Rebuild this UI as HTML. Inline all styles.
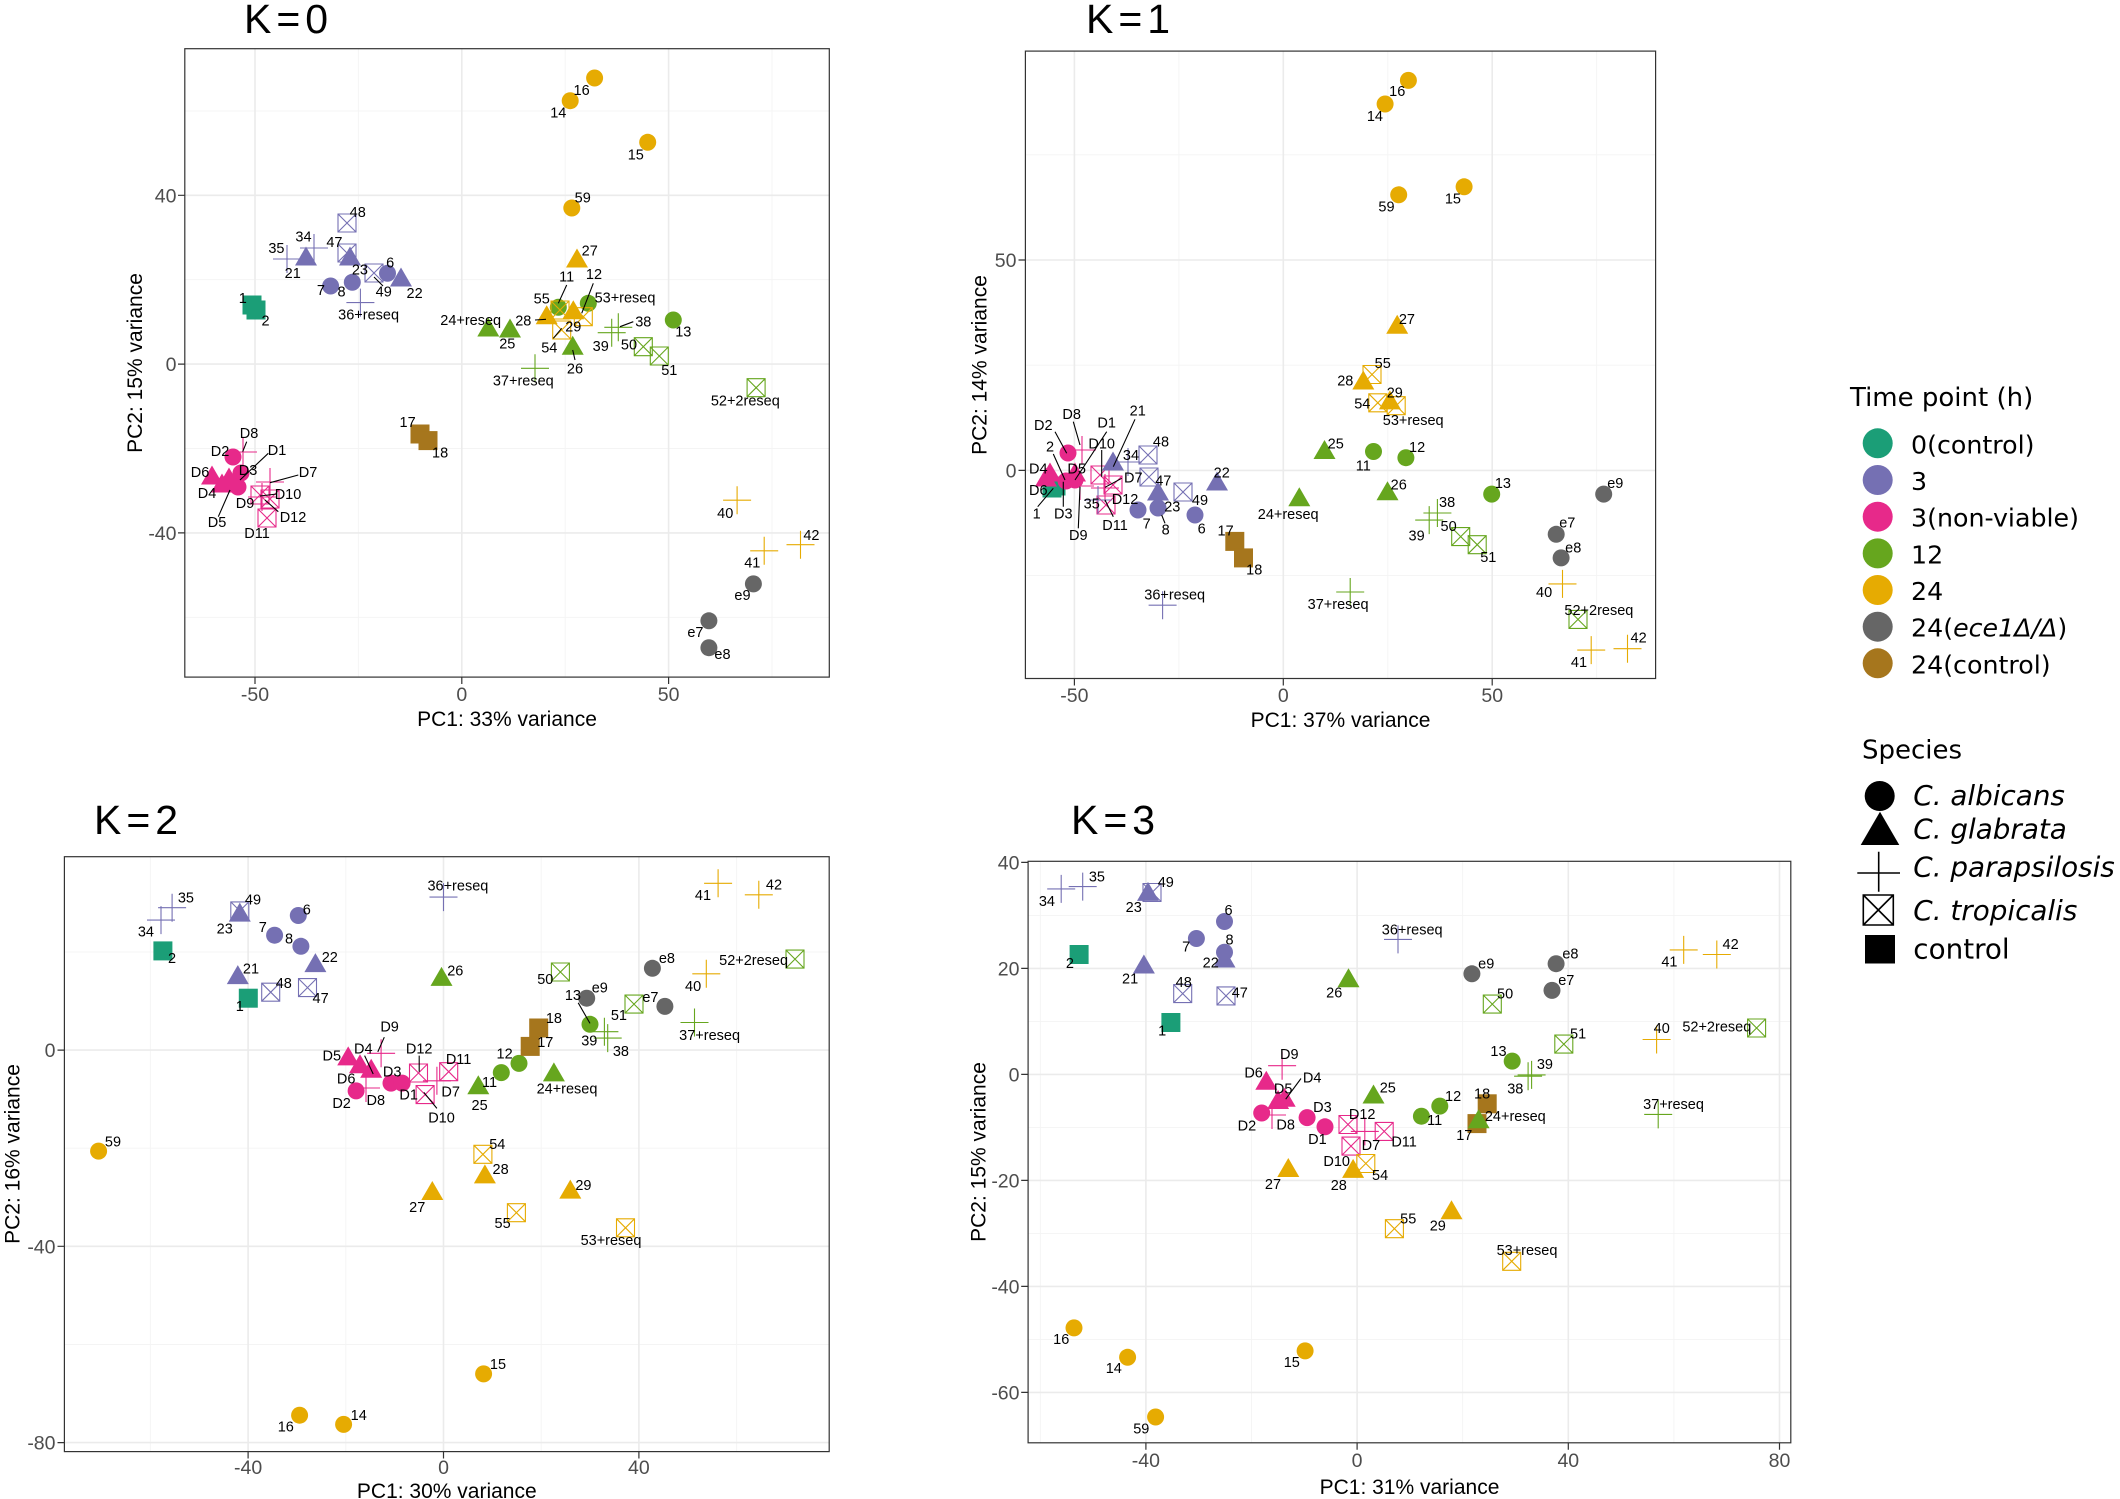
<!DOCTYPE html>
<html><head><meta charset="utf-8">
<style>
html,body{margin:0;padding:0;background:#fff;width:2120px;height:1499px;overflow:hidden}
svg{display:block}
text{font-family:"Liberation Sans",Arial,sans-serif;fill:#000}
.l{font-size:14.5px;text-anchor:middle}
.tk{font-size:19.5px;fill:#4d4d4d}
.tx{text-anchor:middle}
.ty{text-anchor:end}
.at{font-size:21px;text-anchor:middle}
.ti{font-size:41px;letter-spacing:5px}
.lg{font-family:"DejaVu Sans",sans-serif}
.gm{stroke:#ebebeb;stroke-width:1.6}
.gn{stroke:#f4f4f4;stroke-width:0.9}
.bd{fill:none;stroke:#333;stroke-width:1.2}
.tm{stroke:#333;stroke-width:1.2}
.sg{stroke:#000;stroke-width:1.1}
.cT{fill:#1B9E77}.cP{fill:#7570B3}.cK{fill:#E7298A}.cG{fill:#66A61E}.cY{fill:#E6AB02}.cD{fill:#666666}.cB{fill:#A6761D}
.sP{stroke:#7570B3}.sK{stroke:#E7298A}.sG{stroke:#66A61E}.sY{stroke:#E6AB02}
</style></head><body>
<svg width="2120" height="1499" viewBox="0 0 2120 1499" xmlns="http://www.w3.org/2000/svg">
<defs>
<path id="tr" d="M0,-11.5L11,7.5H-11Z"/>
<path id="pl" d="M-14,0H14M0,-14V14" fill="none" stroke-width="1.1"/>
<path id="bx" d="M-9,-9H9V9H-9ZM-9,-9L9,9M9,-9L-9,9" fill="none" stroke-width="1.1"/>
<rect id="sq" x="-9.5" y="-9.5" width="19" height="19"/>
</defs>
<rect width="2120" height="1499" fill="#fff"/>

<!-- ================= K=0 ================= -->
<text class="ti" x="244" y="33">K=0</text>
<g>
<path class="gn" d="M358.4,48.7V677.1M565.2,48.7V677.1M772,48.7V677.1M184.8,110.9H829.3M184.8,279.7H829.3M184.8,448.5H829.3M184.8,617.3H829.3"/>
<path class="gm" d="M255,48.7V677.1M461.8,48.7V677.1M668.6,48.7V677.1M184.8,195.3H829.3M184.8,364.1H829.3M184.8,532.9H829.3"/>
<path class="tm" d="M255,677.1V684M461.8,677.1V684M668.6,677.1V684M178,195.3H184.8M178,364.1H184.8M178,532.9H184.8"/>
<text class="tk tx" x="255" y="701">-50</text><text class="tk tx" x="461.8" y="701">0</text><text class="tk tx" x="668.6" y="701">50</text>
<text class="tk ty" x="176.5" y="202.3">40</text><text class="tk ty" x="176.5" y="371.1">0</text><text class="tk ty" x="176.5" y="539.9">-40</text>
<text class="at" x="507" y="726">PC1: 33% variance</text>
<text class="at" transform="translate(142,363) rotate(-90)">PC2: 15% variance</text>

<use href="#sq" x="252" y="305" class="cT"/><use href="#sq" x="256" y="310" class="cT"/>
<use href="#bx" x="347" y="223" class="sP"/>
<use href="#pl" x="314" y="248" class="sP"/>
<use href="#pl" x="287" y="259" class="sP"/>
<use href="#tr" x="306" y="258" class="cP"/>
<use href="#bx" x="347" y="253" class="sP"/>
<use href="#tr" x="350" y="258" class="cP"/>
<use href="#bx" x="374" y="273" class="sP"/>
<circle cx="387.5" cy="273.3" r="8.5" class="cP"/>
<use href="#tr" x="401" y="279" class="cP"/>
<circle cx="330.6" cy="286" r="8.5" class="cP"/>
<circle cx="352.3" cy="282.3" r="8.5" class="cP"/>
<use href="#pl" x="360.4" y="302.6" class="sP"/>

<use href="#pl" x="243" y="452" class="sK"/>
<use href="#pl" x="270" y="482" class="sK"/>
<use href="#pl" x="262" y="497" class="sK"/>
<use href="#bx" x="260" y="495" class="sK"/>
<use href="#bx" x="270" y="499" class="sK"/>
<use href="#bx" x="267" y="518" class="sK"/>
<circle cx="233" cy="457" r="8.5" class="cK"/><circle cx="241" cy="473" r="8.5" class="cK"/><circle cx="238" cy="487" r="8.5" class="cK"/>
<use href="#tr" x="212" y="477" class="cK"/><use href="#tr" x="222" y="485" class="cK"/><use href="#tr" x="229" y="479" class="cK"/>

<use href="#sq" x="420" y="434" class="cB"/><use href="#sq" x="428" y="440.6" class="cB"/>

<use href="#tr" x="488.3" y="329" class="cG"/><use href="#tr" x="510" y="330" class="cG"/><use href="#tr" x="572.7" y="347.3" class="cG"/>
<circle cx="558.3" cy="307.3" r="8.5" class="cG"/><circle cx="588.3" cy="303.3" r="8.5" class="cG"/><circle cx="673.3" cy="320" r="8.5" class="cG"/>
<use href="#pl" x="618.3" y="327.3" class="sG"/><use href="#pl" x="611.7" y="332.7" class="sG"/><use href="#pl" x="535" y="368.3" class="sG"/>
<use href="#bx" x="643.3" y="346.7" class="sG"/><use href="#bx" x="659.3" y="356" class="sG"/><use href="#bx" x="756.1" y="387.7" class="sG"/>
<use href="#bx" x="560" y="310" class="sY"/><use href="#bx" x="583.3" y="316.7" class="sY"/><use href="#bx" x="561.7" y="330" class="sY"/>
<use href="#tr" x="546.7" y="316.7" class="cY"/><use href="#tr" x="573.3" y="311.7" class="cY"/><use href="#tr" x="577" y="260" class="cY"/>
<circle cx="594.6" cy="78" r="8.5" class="cY"/><circle cx="570.2" cy="100.7" r="8.5" class="cY"/><circle cx="647.7" cy="142.3" r="8.5" class="cY"/><circle cx="571.8" cy="208" r="8.5" class="cY"/>
<use href="#pl" x="737.1" y="500.2" class="sY"/><use href="#pl" x="764.2" y="550.8" class="sY"/><use href="#pl" x="800.5" y="544.7" class="sY"/>
<circle cx="753.4" cy="583.9" r="8.5" class="cD"/><circle cx="708.9" cy="620.8" r="8.5" class="cD"/><circle cx="708.9" cy="647.7" r="8.5" class="cD"/>

<path class="sg" d="M383,286L374,277M246.7,441.7L242.7,451.7M268.3,453.3L240,480M298.3,475L270,482.7M276.7,494L260,496M278.3,511.7L265,500M218.3,516.7L230,490M566.7,285L558.3,303.3M593.3,283.3L581.7,313.3M535,320L546,319.3M553.3,338.3L561.7,328.3M572.7,350L575,360M620,326.7L633.3,321.7"/>
<g class="l">
<text class="l" x="581.6" y="94.8">16</text><text class="l" x="558.3" y="117.5">14</text><text class="l" x="635.8" y="159.6">15</text><text class="l" x="582.7" y="202.6">59</text><text class="l" x="589.7" y="255.6">27</text>
<text class="l" x="566.7" y="281.7">11</text><text class="l" x="594" y="279">12</text><text class="l" x="541.7" y="303.3">55</text><text class="l" x="625" y="302.7">53+reseq</text><text class="l" x="470.7" y="325">24+reseq</text>
<text class="l" x="523.3" y="325.7">28</text><text class="l" x="573.3" y="331.7">29</text><text class="l" x="549.3" y="352.3">54</text><text class="l" x="507.3" y="348.3">25</text><text class="l" x="575" y="373.3">26</text>
<text class="l" x="643.3" y="326.7">38</text><text class="l" x="600.7" y="351">39</text><text class="l" x="629" y="349.3">50</text><text class="l" x="669.3" y="375">51</text><text class="l" x="683.3" y="336.7">13</text>
<text class="l" x="523.3" y="385.7">37+reseq</text><text class="l" x="745.3" y="405.5">52+2reseq</text><text class="l" x="725.2" y="518">40</text><text class="l" x="752.3" y="567.6">41</text><text class="l" x="811.4" y="540.2">42</text>
<text class="l" x="742.5" y="599.8">e9</text><text class="l" x="695.4" y="637.1">e7</text><text class="l" x="722.5" y="658.9">e8</text><text class="l" x="407.6" y="427.2">17</text><text class="l" x="440.1" y="457.5">18</text>
<text class="l" x="242.8" y="302.9">1</text><text class="l" x="265.6" y="325.6">2</text><text class="l" x="357.7" y="216.8">48</text><text class="l" x="303.5" y="241.4">34</text><text class="l" x="276.4" y="253.2">35</text>
<text class="l" x="292.7" y="277.8">21</text><text class="l" x="334.4" y="247.1">47</text><text class="l" x="359.9" y="274.5">23</text><text class="l" x="383.7" y="296.7">49</text><text class="l" x="390.2" y="267.4">6</text>
<text class="l" x="414.6" y="298.1">22</text><text class="l" x="320.9" y="294.8">7</text><text class="l" x="341.5" y="296.7">8</text><text class="l" x="368.6" y="319.4">36+reseq</text>
<text class="l" x="249" y="438">D8</text><text class="l" x="220" y="456">D2</text><text class="l" x="277" y="455">D1</text><text class="l" x="200" y="477">D6</text><text class="l" x="248" y="475">D3</text><text class="l" x="308" y="477">D7</text>
<text class="l" x="207" y="498">D4</text><text class="l" x="288" y="499">D10</text><text class="l" x="245" y="508">D9</text><text class="l" x="293" y="522">D12</text><text class="l" x="217" y="527">D5</text><text class="l" x="257" y="538">D11</text>
</g>
<rect class="bd" x="184.8" y="48.7" width="644.5" height="628.4"/>
</g>

<!-- ================= K=1 ================= -->
<text class="ti" x="1086" y="33">K=1</text>
<g>
<path class="gn" d="M1178.9,51.1V678.5M1387.8,51.1V678.5M1596.7,51.1V678.5M1025.4,154.8H1655.6M1025.4,365.2H1655.6M1025.4,575.6H1655.6"/>
<path class="gm" d="M1074.4,51.1V678.5M1283.3,51.1V678.5M1492.2,51.1V678.5M1025.4,260H1655.6M1025.4,470.4H1655.6"/>
<path class="tm" d="M1074.4,678.5V685.5M1283.3,678.5V685.5M1492.2,678.5V685.5M1018.5,260H1025.4M1018.5,470.4H1025.4"/>
<text class="tk tx" x="1074.4" y="702">-50</text><text class="tk tx" x="1283.3" y="702">0</text><text class="tk tx" x="1492.2" y="702">50</text>
<text class="tk ty" x="1016.5" y="267">50</text><text class="tk ty" x="1016.5" y="477.4">0</text>
<text class="at" x="1340.5" y="727">PC1: 37% variance</text>
<text class="at" transform="translate(986.5,365) rotate(-90)">PC2: 14% variance</text>

<use href="#sq" x="1052" y="488" class="cT"/><use href="#sq" x="1056" y="486" class="cT"/>
<use href="#tr" x="1050" y="474" class="cK"/><use href="#tr" x="1046" y="479" class="cK"/><use href="#tr" x="1075" y="474" class="cK"/>
<circle cx="1068" cy="453" r="8.5" class="cK"/><circle cx="1075" cy="480" r="8.5" class="cK"/><circle cx="1066" cy="481" r="8.5" class="cK"/>
<use href="#pl" x="1082" y="450" class="sK"/><use href="#pl" x="1080" y="486" class="sK"/><use href="#pl" x="1105" y="488" class="sK"/>
<use href="#bx" x="1100" y="475" class="sK"/><use href="#bx" x="1113" y="485" class="sK"/><use href="#bx" x="1106" y="505" class="sK"/>
<use href="#tr" x="1113" y="463" class="cP"/><use href="#tr" x="1158" y="493" class="cP"/><use href="#tr" x="1217" y="483" class="cP"/>
<use href="#pl" x="1128" y="462" class="sP"/><use href="#pl" x="1098" y="500" class="sP"/><use href="#pl" x="1162.6" y="605.2" class="sP"/>
<use href="#bx" x="1148" y="455" class="sP"/><use href="#bx" x="1149" y="477" class="sP"/><use href="#bx" x="1183" y="492" class="sP"/>
<circle cx="1138" cy="510" r="8.5" class="cP"/><circle cx="1158" cy="508" r="8.5" class="cP"/><circle cx="1195" cy="515" r="8.5" class="cP"/>
<use href="#sq" x="1234.8" y="541.4" class="cB"/><use href="#sq" x="1243.5" y="557.9" class="cB"/>
<use href="#tr" x="1324.5" y="451.5" class="cG"/><use href="#tr" x="1299.3" y="498.8" class="cG"/><use href="#tr" x="1387.5" y="492.7" class="cG"/>
<circle cx="1373.5" cy="451.5" r="8.5" class="cG"/><circle cx="1405.9" cy="457.7" r="8.5" class="cG"/><circle cx="1491.7" cy="494.1" r="8.5" class="cG"/>
<use href="#pl" x="1437.4" y="513" class="sG"/><use href="#pl" x="1429.2" y="520.1" class="sG"/><use href="#pl" x="1350.2" y="592" class="sG"/>
<use href="#bx" x="1460.7" y="536.6" class="sG"/><use href="#bx" x="1477.2" y="544.7" class="sG"/><use href="#bx" x="1578" y="619.4" class="sG"/>
<circle cx="1408.4" cy="80.4" r="8.5" class="cY"/><circle cx="1385.1" cy="104" r="8.5" class="cY"/><circle cx="1398.7" cy="194.8" r="8.5" class="cY"/><circle cx="1464.1" cy="186.8" r="8.5" class="cY"/>
<use href="#bx" x="1372" y="374.5" class="sY"/><use href="#bx" x="1377.8" y="402.8" class="sY"/><use href="#bx" x="1396.2" y="405.7" class="sY"/>
<use href="#tr" x="1397.2" y="326.2" class="cY"/><use href="#tr" x="1363.3" y="382" class="cY"/><use href="#tr" x="1389.9" y="401.9" class="cY"/>
<use href="#pl" x="1562.5" y="583.9" class="sY"/><use href="#pl" x="1591.2" y="650.1" class="sY"/><use href="#pl" x="1627.5" y="648.7" class="sY"/>
<circle cx="1603.7" cy="494.1" r="8.5" class="cD"/><circle cx="1556.2" cy="534.3" r="8.5" class="cD"/><circle cx="1561.1" cy="557.9" r="8.5" class="cD"/>

<path class="sg" d="M1055,431.7L1066.7,453.3M1073.3,421.7L1080,445M1106.7,431.7L1075,480M1135,419.3L1113.3,466.7M1053.3,454L1065,480M1101.7,450L1101.7,476.7M1121.7,478.3L1105,487.3M1037.7,506.7L1053.3,488.3M1063.3,506.7L1063.3,481.7M1113.3,516.7L1105,500M1078.3,528.3L1080,486.7M1165,523.3L1161.7,515"/>
<text class="l" x="1397.2" y="95.8">16</text><text class="l" x="1374.9" y="120.8">14</text><text class="l" x="1386.5" y="211.6">59</text><text class="l" x="1452.9" y="203.6">15</text><text class="l" x="1406.9" y="324.1">27</text>
<text class="l" x="1382.7" y="368.1">55</text><text class="l" x="1345.3" y="385.6">28</text><text class="l" x="1394.8" y="397.4">29</text><text class="l" x="1362.3" y="408.3">54</text><text class="l" x="1413.2" y="424.8">53+reseq</text>
<text class="l" x="1335.7" y="448.5">25</text><text class="l" x="1363.3" y="470.7">11</text><text class="l" x="1417.1" y="451.8">12</text><text class="l" x="1288.2" y="518.9">24+reseq</text><text class="l" x="1398.7" y="489.6">26</text>
<text class="l" x="1502.9" y="488.2">13</text><text class="l" x="1447.1" y="507.1">38</text><text class="l" x="1416.6" y="540.7">39</text><text class="l" x="1448.6" y="530.8">50</text><text class="l" x="1488.3" y="562">51</text>
<text class="l" x="1615.3" y="488.2">e9</text><text class="l" x="1567.3" y="527.4">e7</text><text class="l" x="1573.2" y="552.5">e8</text><text class="l" x="1544.1" y="597">40</text><text class="l" x="1598.9" y="614.9">52+2reseq</text>
<text class="l" x="1579" y="666.9">41</text><text class="l" x="1638.6" y="642.4">42</text><text class="l" x="1225.6" y="535.5">17</text><text class="l" x="1254.2" y="574.7">18</text><text class="l" x="1174.7" y="599.3">36+reseq</text><text class="l" x="1338.1" y="608.8">37+reseq</text>
<text class="l" x="1043.3" y="430">D2</text><text class="l" x="1071.7" y="419">D8</text><text class="l" x="1106.7" y="427.7">D1</text><text class="l" x="1137.7" y="415.7">21</text><text class="l" x="1050" y="451.7">2</text>
<text class="l" x="1101.7" y="448.3">D10</text><text class="l" x="1038.3" y="473.3">D4</text><text class="l" x="1076.7" y="473.3">D5</text><text class="l" x="1131" y="460">34</text><text class="l" x="1161" y="446.7">48</text>
<text class="l" x="1133.3" y="482.3">D7</text><text class="l" x="1163.3" y="485.7">47</text><text class="l" x="1221.7" y="477.7">22</text><text class="l" x="1038.3" y="495">D6</text><text class="l" x="1091.7" y="508.3">35</text>
<text class="l" x="1125" y="504">D12</text><text class="l" x="1172.3" y="511.7">23</text><text class="l" x="1200" y="505">49</text><text class="l" x="1036.7" y="518.3">1</text><text class="l" x="1063.3" y="518.3">D3</text>
<text class="l" x="1146.7" y="528.3">7</text><text class="l" x="1165.7" y="534.3">8</text><text class="l" x="1201.7" y="533.3">6</text><text class="l" x="1115" y="530">D11</text><text class="l" x="1078.3" y="540">D9</text>
<rect class="bd" x="1025.4" y="51.1" width="630.2" height="627.4"/>
</g>

<!-- ================= K=2 ================= -->
<text class="ti" x="94" y="834">K=2</text>
<g>
<path class="gn" d="M150.3,856.7V1451.6M345.8,856.7V1451.6M541.2,856.7V1451.6M736.7,856.7V1451.6M64.4,952H829.2M64.4,1148.2H829.2M64.4,1344.5H829.2"/>
<path class="gm" d="M248.1,856.7V1451.6M443.5,856.7V1451.6M638.9,856.7V1451.6M64.4,1050.1H829.2M64.4,1246.3H829.2M64.4,1442.6H829.2"/>
<path class="tm" d="M248.1,1451.6V1458.5M443.5,1451.6V1458.5M638.9,1451.6V1458.5M57.5,1050.1H64.4M57.5,1246.3H64.4M57.5,1442.6H64.4"/>
<text class="tk tx" x="248.1" y="1474">-40</text><text class="tk tx" x="443.5" y="1474">0</text><text class="tk tx" x="638.9" y="1474">40</text>
<text class="tk ty" x="55.5" y="1057.1">0</text><text class="tk ty" x="55.5" y="1253.3">-40</text><text class="tk ty" x="55.5" y="1449.6">-80</text>
<text class="at" x="446.8" y="1498">PC1: 30% variance</text>
<text class="at" transform="translate(19.7,1154) rotate(-90)">PC2: 16% variance</text>

<use href="#pl" x="172.1" y="907.7" class="sP"/><use href="#pl" x="161" y="920.1" class="sP"/><use href="#pl" x="443.5" y="897.1" class="sP"/>
<use href="#bx" x="239.8" y="910.9" class="sP"/><use href="#bx" x="270.7" y="992.2" class="sP"/><use href="#bx" x="307.5" y="987.6" class="sP"/>
<use href="#tr" x="239.8" y="914.1" class="cP"/><use href="#tr" x="315.4" y="964.6" class="cP"/><use href="#tr" x="237.8" y="976.6" class="cP"/>
<circle cx="298.3" cy="915.5" r="8.5" class="cP"/><circle cx="274.6" cy="935.2" r="8.5" class="cP"/><circle cx="300.9" cy="946.3" r="8.5" class="cP"/>
<use href="#sq" x="162.9" y="950.9" class="cT"/><use href="#sq" x="248.3" y="998.2" class="cT"/>
<use href="#tr" x="441.5" y="978.4" class="cG"/><use href="#tr" x="553.9" y="1073.9" class="cG"/><use href="#tr" x="478.3" y="1086.8" class="cG"/>
<use href="#bx" x="560.4" y="972" class="sG"/><use href="#bx" x="634" y="1004.1" class="sG"/><use href="#bx" x="795" y="959.1" class="sG"/>
<use href="#pl" x="604.4" y="1031.7" class="sG"/><use href="#pl" x="607.7" y="1038.1" class="sG"/><use href="#pl" x="694.5" y="1022.5" class="sG"/>
<circle cx="590" cy="1024.3" r="8.5" class="cG"/><circle cx="519" cy="1063.4" r="8.5" class="cG"/><circle cx="501.3" cy="1072.6" r="8.5" class="cG"/>
<use href="#pl" x="718.1" y="883.3" class="sY"/><use href="#pl" x="758.8" y="894.8" class="sY"/><use href="#pl" x="706.3" y="973.8" class="sY"/>
<circle cx="652.4" cy="968.3" r="8.5" class="cD"/><circle cx="586.7" cy="998.2" r="8.5" class="cD"/><circle cx="664.9" cy="1006.4" r="8.5" class="cD"/>
<use href="#sq" x="538.7" y="1028" class="cB"/><use href="#sq" x="530.2" y="1046.4" class="cB"/>
<use href="#tr" x="348.2" y="1057.9" class="cK"/><use href="#tr" x="360" y="1065.7" class="cK"/><use href="#tr" x="371.2" y="1070.3" class="cK"/>
<circle cx="391" cy="1083.1" r="8.5" class="cK"/><circle cx="402.1" cy="1083.1" r="8.5" class="cK"/><circle cx="356.1" cy="1090.9" r="8.5" class="cK"/>
<use href="#pl" x="381.1" y="1053.3" class="sK"/><use href="#pl" x="366" y="1088" class="sK"/><use href="#pl" x="436.9" y="1080.8" class="sK"/>
<use href="#bx" x="418.5" y="1073" class="sK"/><use href="#bx" x="448.7" y="1071.7" class="sK"/><use href="#bx" x="425.1" y="1094.6" class="sK"/>
<circle cx="98.6" cy="1151.1" r="8.5" class="cY"/><circle cx="483.6" cy="1373.9" r="8.5" class="cY"/><circle cx="299.6" cy="1415.2" r="8.5" class="cY"/><circle cx="343.6" cy="1424.4" r="8.5" class="cY"/>
<use href="#bx" x="482.9" y="1154.3" class="sY"/><use href="#bx" x="516.4" y="1212.7" class="sY"/><use href="#bx" x="625.5" y="1227.8" class="sY"/>
<use href="#tr" x="484.9" y="1175.9" class="cY"/><use href="#tr" x="570.3" y="1191.1" class="cY"/><use href="#tr" x="432.3" y="1192.5" class="cY"/>

<path class="sg" d="M578.2,1002.8L590,1023.4M384.3,1037.2L377.8,1051.9M364.6,1055.6L373.2,1074M419.2,1055.6L419.2,1071.7M436.9,1108.4L423.8,1092.3"/>
<text class="l" x="185.9" y="902.6">35</text><text class="l" x="145.9" y="936.6">34</text><text class="l" x="253" y="904.4">49</text><text class="l" x="224.7" y="933.4">23</text><text class="l" x="306.8" y="914.5">6</text>
<text class="l" x="262.8" y="932">7</text><text class="l" x="289.1" y="943.5">8</text><text class="l" x="172.1" y="963.2">2</text><text class="l" x="329.8" y="961.8">22</text><text class="l" x="251" y="973.3">21</text>
<text class="l" x="283.8" y="988">48</text><text class="l" x="320.6" y="1003.2">47</text><text class="l" x="239.8" y="1011">1</text><text class="l" x="457.9" y="890.6">36+reseq</text><text class="l" x="455.3" y="975.6">26</text>
<text class="l" x="545.3" y="983.9">50</text><text class="l" x="703" y="899.8">41</text><text class="l" x="774" y="889.7">42</text><text class="l" x="666.9" y="963.2">e8</text><text class="l" x="753.6" y="965">52+2reseq</text>
<text class="l" x="693.1" y="990.8">40</text><text class="l" x="572.9" y="1000">13</text><text class="l" x="599.8" y="992.6">e9</text><text class="l" x="618.9" y="1020.2">51</text><text class="l" x="650.4" y="1001.8">e7</text>
<text class="l" x="589.3" y="1045.4">39</text><text class="l" x="620.9" y="1056">38</text><text class="l" x="709.6" y="1039.9">37+reseq</text><text class="l" x="553.9" y="1022.9">18</text><text class="l" x="545.3" y="1046.8">17</text>
<text class="l" x="504.6" y="1058.3">12</text><text class="l" x="489.5" y="1086.8">11</text><text class="l" x="567" y="1093.6">24+reseq</text><text class="l" x="479.6" y="1110.2">25</text>
<text class="l" x="389.6" y="1031.6">D9</text><text class="l" x="331.8" y="1060.6">D5</text><text class="l" x="363.3" y="1053.7">D4</text><text class="l" x="419.2" y="1053.7">D12</text><text class="l" x="458.6" y="1063.8">D11</text>
<text class="l" x="392.2" y="1076.7">D3</text><text class="l" x="346.2" y="1083.5">D6</text><text class="l" x="450.7" y="1096.4">D7</text><text class="l" x="408.7" y="1099.6">D1</text><text class="l" x="341.6" y="1107.9">D2</text>
<text class="l" x="375.8" y="1105.1">D8</text><text class="l" x="441.5" y="1122.6">D10</text><text class="l" x="113" y="1146.5">59</text><text class="l" x="497.3" y="1148.8">54</text><text class="l" x="500.6" y="1174">28</text>
<text class="l" x="583.4" y="1190.1">29</text><text class="l" x="417.2" y="1212.1">27</text><text class="l" x="502.6" y="1228.2">55</text><text class="l" x="611" y="1245.2">53+reseq</text><text class="l" x="498" y="1369.2">15</text>
<text class="l" x="285.8" y="1431.7">16</text><text class="l" x="358.7" y="1420.2">14</text>
<rect class="bd" x="64.4" y="856.7" width="764.8" height="594.9"/>
</g>

<!-- ================= K=3 ================= -->
<text class="ti" x="1071" y="834">K=3</text>
<g>
<path class="gn" d="M1040.3,861.3V1442.8M1251.5,861.3V1442.8M1462.7,861.3V1442.8M1673.9,861.3V1442.8M1028.1,915.4H1790.8M1028.1,1021.4H1790.8M1028.1,1127.4H1790.8M1028.1,1233.4H1790.8M1028.1,1339.4H1790.8"/>
<path class="gm" d="M1145.9,861.3V1442.8M1357.1,861.3V1442.8M1568.3,861.3V1442.8M1779.5,861.3V1442.8M1028.1,968.4H1790.8M1028.1,1074.4H1790.8M1028.1,1180.4H1790.8M1028.1,1286.4H1790.8M1028.1,1392.4H1790.8"/>
<path class="tm" d="M1145.9,1442.8V1449.7M1357.1,1442.8V1449.7M1568.3,1442.8V1449.7M1779.5,1442.8V1449.7M1021.2,862.4H1028.1M1021.2,968.4H1028.1M1021.2,1074.4H1028.1M1021.2,1180.4H1028.1M1021.2,1286.4H1028.1M1021.2,1392.4H1028.1"/>
<text class="tk tx" x="1145.9" y="1467">-40</text><text class="tk tx" x="1357.1" y="1467">0</text><text class="tk tx" x="1568.3" y="1467">40</text><text class="tk tx" x="1779.5" y="1467">80</text>
<text class="tk ty" x="1019.5" y="869.4">40</text><text class="tk ty" x="1019.5" y="975.4">20</text><text class="tk ty" x="1019.5" y="1081.4">0</text><text class="tk ty" x="1019.5" y="1187.4">-20</text><text class="tk ty" x="1019.5" y="1293.4">-40</text><text class="tk ty" x="1019.5" y="1399.4">-60</text>
<text class="at" x="1409.5" y="1494">PC1: 31% variance</text>
<text class="at" transform="translate(985.5,1152) rotate(-90)">PC2: 15% variance</text>

<use href="#pl" x="1061.2" y="888.9" class="sP"/><use href="#pl" x="1082.7" y="886.6" class="sP"/><use href="#pl" x="1398" y="939.4" class="sP"/>
<use href="#bx" x="1152" y="892.5" class="sP"/><use href="#bx" x="1182.7" y="993.6" class="sP"/><use href="#bx" x="1226" y="995.9" class="sP"/>
<use href="#tr" x="1148" y="893.4" class="cP"/><use href="#tr" x="1224.5" y="960" class="cP"/><use href="#tr" x="1143.9" y="966" class="cP"/>
<circle cx="1224.5" cy="921.5" r="8.5" class="cP"/><circle cx="1196.4" cy="938.5" r="8.5" class="cP"/><circle cx="1224.5" cy="952.2" r="8.5" class="cP"/>
<use href="#sq" x="1079.1" y="954.5" class="cT"/><use href="#sq" x="1170.9" y="1022.5" class="cT"/>
<use href="#tr" x="1348.5" y="979.8" class="cG"/><use href="#tr" x="1373.5" y="1096" class="cG"/>
<circle cx="1471.9" cy="973.8" r="8.5" class="cD"/><circle cx="1556.1" cy="963.7" r="8.5" class="cD"/><circle cx="1552" cy="990.4" r="8.5" class="cD"/>
<use href="#bx" x="1492.3" y="1004.1" class="sG"/><use href="#bx" x="1756.6" y="1028" class="sG"/><use href="#bx" x="1563.8" y="1044.1" class="sG"/>
<use href="#pl" x="1683.7" y="949.9" class="sY"/><use href="#pl" x="1716.8" y="954.5" class="sY"/><use href="#pl" x="1656.6" y="1039.5" class="sY"/>
<circle cx="1512.2" cy="1061.1" r="8.5" class="cG"/><circle cx="1439.8" cy="1106.1" r="8.5" class="cG"/><circle cx="1421.4" cy="1116.2" r="8.5" class="cG"/>
<use href="#pl" x="1531.6" y="1074.9" class="sG"/><use href="#pl" x="1528.1" y="1076.2" class="sG"/><use href="#pl" x="1658.2" y="1114.4" class="sG"/>
<use href="#sq" x="1487.2" y="1103.8" class="cB"/><use href="#sq" x="1477" y="1123.6" class="cB"/>
<use href="#tr" x="1478.6" y="1120.8" class="cG"/>
<use href="#pl" x="1282.1" y="1065.7" class="sK"/><use href="#pl" x="1272" y="1115" class="sK"/><use href="#pl" x="1364.8" y="1131.4" class="sK"/>
<use href="#tr" x="1266.3" y="1082.2" class="cK"/><use href="#tr" x="1278.1" y="1101.5" class="cK"/><use href="#tr" x="1284.7" y="1099.2" class="cK"/>
<circle cx="1261.7" cy="1113" r="8.5" class="cK"/><circle cx="1307.1" cy="1117.6" r="8.5" class="cK"/><circle cx="1325" cy="1126.8" r="8.5" class="cK"/>
<use href="#bx" x="1348" y="1124.5" class="sK"/><use href="#bx" x="1384.2" y="1131.4" class="sK"/><use href="#bx" x="1351" y="1146.1" class="sK"/>
<use href="#tr" x="1288.3" y="1169.5" class="cY"/><use href="#tr" x="1353.1" y="1170.4" class="cY"/><use href="#tr" x="1451.5" y="1211.7" class="cY"/>
<use href="#bx" x="1365.8" y="1163.5" class="sY"/><use href="#bx" x="1394.4" y="1228.7" class="sY"/><use href="#bx" x="1511.7" y="1261.3" class="sY"/>
<circle cx="1074" cy="1327.9" r="8.5" class="cY"/><circle cx="1127.6" cy="1357.3" r="8.5" class="cY"/><circle cx="1305.1" cy="1350.9" r="8.5" class="cY"/><circle cx="1155.6" cy="1417" r="8.5" class="cY"/>

<path class="sg" d="M1301,1078.5L1285.7,1099.2"/>
<text class="l" x="1046.9" y="905.8">34</text><text class="l" x="1096.9" y="881.5">35</text><text class="l" x="1165.8" y="887">49</text><text class="l" x="1133.7" y="912.2">23</text><text class="l" x="1228.6" y="915">6</text>
<text class="l" x="1186.2" y="951.3">7</text><text class="l" x="1229.6" y="944.4">8</text><text class="l" x="1210.7" y="967.3">22</text><text class="l" x="1069.9" y="967.8">2</text><text class="l" x="1130.1" y="983.4">21</text>
<text class="l" x="1183.7" y="987.1">48</text><text class="l" x="1239.8" y="997.7">47</text><text class="l" x="1162.2" y="1035.3">1</text><text class="l" x="1412.2" y="934.3">36+reseq</text><text class="l" x="1334.2" y="997.7">26</text>
<text class="l" x="1486.2" y="968.7">e9</text><text class="l" x="1570.4" y="958.6">e8</text><text class="l" x="1566.3" y="984.8">e7</text><text class="l" x="1505.1" y="998.6">50</text><text class="l" x="1669.4" y="966.4">41</text>
<text class="l" x="1730.6" y="949">42</text><text class="l" x="1661.7" y="1033">40</text><text class="l" x="1716.8" y="1031.6">52+2reseq</text><text class="l" x="1578.1" y="1038.5">51</text><text class="l" x="1498.5" y="1056">13</text>
<text class="l" x="1544.9" y="1068.8">39</text><text class="l" x="1515.3" y="1093.6">38</text><text class="l" x="1673.5" y="1108.8">37+reseq</text><text class="l" x="1482.1" y="1098.7">18</text><text class="l" x="1464.3" y="1140">17</text>
<text class="l" x="1515.3" y="1121.2">24+reseq</text><text class="l" x="1453.1" y="1101">12</text><text class="l" x="1434.7" y="1124.9">11</text><text class="l" x="1387.8" y="1092.7">25</text>
<text class="l" x="1289.3" y="1059.2">D9</text><text class="l" x="1253.6" y="1077.6">D6</text><text class="l" x="1283.2" y="1093.6">D5</text><text class="l" x="1312.2" y="1082.6">D4</text><text class="l" x="1246.9" y="1130.4">D2</text>
<text class="l" x="1285.7" y="1129.5">D8</text><text class="l" x="1322.4" y="1112">D3</text><text class="l" x="1317.4" y="1144.2">D1</text><text class="l" x="1362.2" y="1118.9">D12</text><text class="l" x="1404.1" y="1146.5">D11</text>
<text class="l" x="1370.9" y="1150.1">D7</text><text class="l" x="1336.7" y="1166.2">D10</text><text class="l" x="1273" y="1189.2">27</text><text class="l" x="1338.8" y="1190.1">28</text><text class="l" x="1380.1" y="1180">54</text>
<text class="l" x="1437.8" y="1230.5">29</text><text class="l" x="1408.2" y="1223.6">55</text><text class="l" x="1527" y="1254.9">53+reseq</text><text class="l" x="1061.2" y="1344">16</text><text class="l" x="1113.8" y="1372.9">14</text>
<text class="l" x="1291.8" y="1366.9">15</text><text class="l" x="1141.3" y="1433.5">59</text>
<rect class="bd" x="1028.1" y="861.3" width="762.7" height="581.5"/>
</g>

<!-- ================= Legend ================= -->
<g>
<text class="lg" x="1850" y="406" font-size="26">Time point (h)</text>
<circle cx="1877.7" cy="443.3" r="15" class="cT"/>
<circle cx="1877.7" cy="480" r="15" class="cP"/>
<circle cx="1877.7" cy="516.7" r="15" class="cK"/>
<circle cx="1877.7" cy="553.4" r="15" class="cG"/>
<circle cx="1877.7" cy="590" r="15" class="cY"/>
<circle cx="1877.7" cy="626.7" r="15" class="cD"/>
<circle cx="1877.7" cy="663.3" r="15" class="cB"/>
<text class="lg" x="1911" y="453.3" font-size="25.3">0(control)</text>
<text class="lg" x="1911" y="490" font-size="25.3">3</text>
<text class="lg" x="1911" y="526.7" font-size="25.3">3(non-viable)</text>
<text class="lg" x="1911" y="563.4" font-size="25.3">12</text>
<text class="lg" x="1911" y="600" font-size="25.3">24</text>
<text class="lg" x="1911" y="636.7" font-size="25.3">24(<tspan font-style="italic">ece1Δ/Δ</tspan>)</text>
<text class="lg" x="1911" y="673.3" font-size="25.3">24(control)</text>

<text class="lg" x="1862" y="758.3" font-size="26">Species</text>
<circle cx="1879.7" cy="796" r="15" fill="#000"/>
<path d="M1880,811.7L1899.3,845H1860.7Z" fill="#000"/>
<path d="M1857.3,873H1900M1878.7,851.7V891.7" stroke="#000" stroke-width="1.6" fill="none"/>
<path d="M1863.3,895H1893.3V925H1863.3ZM1863.3,895L1893.3,925M1893.3,895L1863.3,925" stroke="#000" stroke-width="1.6" fill="none"/>
<rect x="1865" y="935" width="30" height="28.5" fill="#000"/>
<text class="lg" x="1913.3" y="805" font-size="27.8" font-style="italic">C. albicans</text>
<text class="lg" x="1913.3" y="838.3" font-size="27.8" font-style="italic">C. glabrata</text>
<text class="lg" x="1913.3" y="876.7" font-size="27.8" font-style="italic">C. parapsilosis</text>
<text class="lg" x="1913.3" y="920" font-size="27.8" font-style="italic">C. tropicalis</text>
<text class="lg" x="1913.3" y="958.3" font-size="27.8">control</text>
</g>
</svg>
</body></html>
